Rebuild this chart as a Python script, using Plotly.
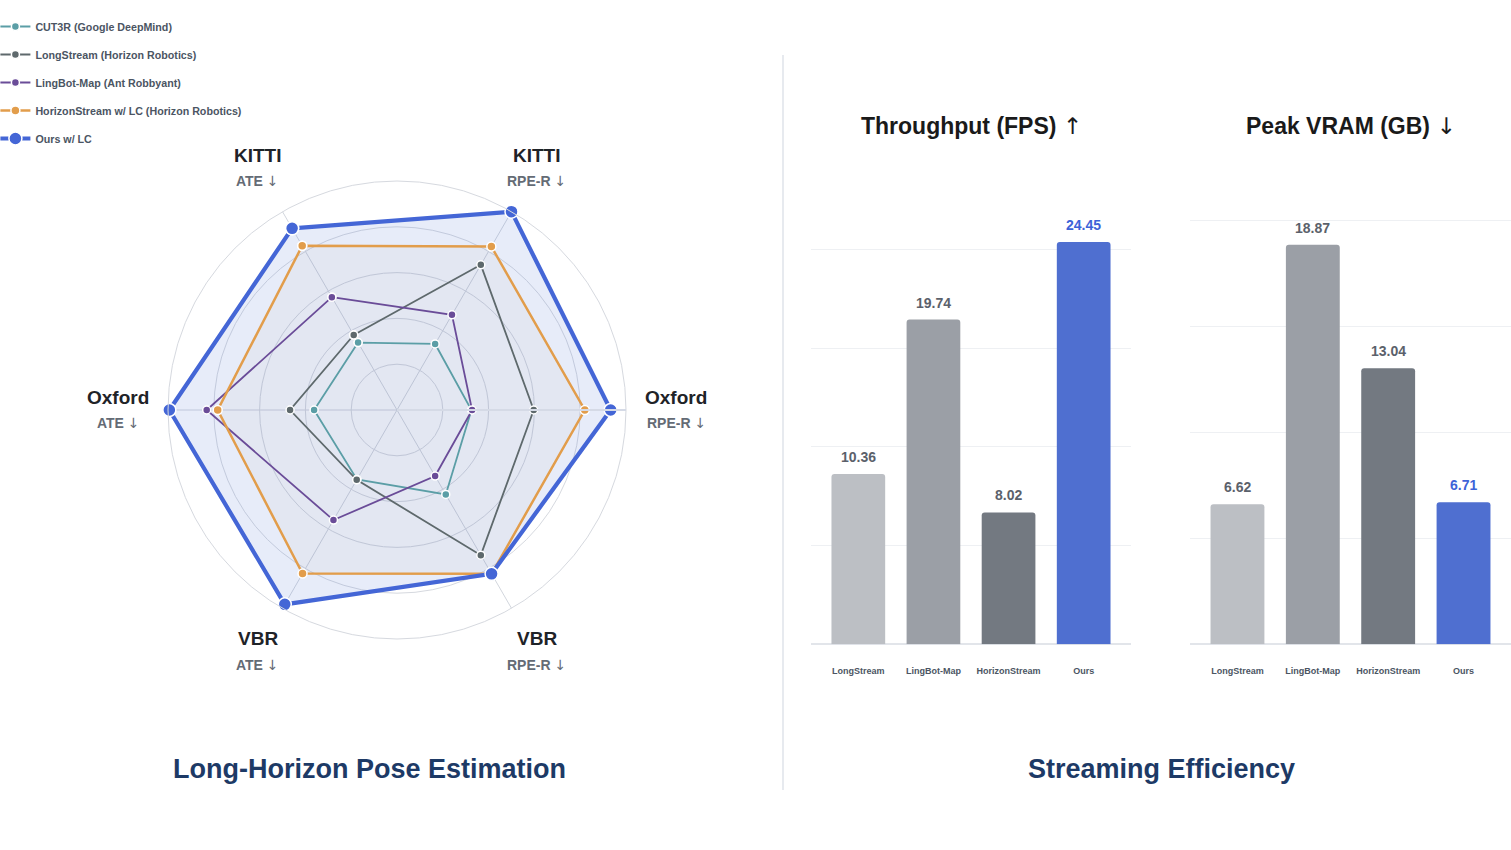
import math
import plotly.graph_objects as go

W, H = 1511, 850

# ---------------- data ----------------
radar_axes = ["KITTI ATE", "KITTI RPE-R", "Oxford RPE-R", "VBR RPE-R", "VBR ATE", "Oxford ATE"]
radar_dataset = ["KITTI", "KITTI", "Oxford", "VBR", "VBR", "Oxford"]
radar_metric = ["ATE", "RPE-R", "RPE-R", "RPE-R", "ATE", "ATE"]

cut3r = [0.34, 0.333, 0.325, 0.426, 0.35, 0.362]
longstream = [0.378, 0.732, 0.597, 0.732, 0.352, 0.467]
lingbot = [0.569, 0.48, 0.328, 0.333, 0.555, 0.831]
horizonstream = [0.828, 0.824, 0.82, 0.826, 0.825, 0.783]
ours = [0.916, 1.0, 0.933, 0.826, 0.98, 0.994]

series_names = [
    "CUT3R (Google DeepMind)",
    "LongStream (Horizon Robotics)",
    "LingBot-Map (Ant Robbyant)",
    "HorizonStream w/ LC (Horizon Robotics)",
    "Ours w/ LC",
]

bar_methods = ["LongStream", "LingBot-Map", "HorizonStream", "Ours"]
throughput_fps = [10.36, 19.74, 8.02, 24.45]
peak_vram_gb = [6.62, 18.87, 13.04, 6.71]

# ---------------- styles ----------------
FONT = "Liberation Sans, Arial, Helvetica, sans-serif"
ARROW = "<span style='font-family:DejaVu Sans;font-weight:normal'>{}</span>"
DOWN = ARROW.format("↓")
UP = ARROW.format("↑")
series_colors = ["#5b9ea6", "#5e696c", "#6a4c98", "#e29d4b", "#4466d6"]
series_width = [1.8, 1.8, 1.8, 2.5, 4.2]
series_msize = [8, 8, 8, 9, 13]
bar_colors = ["#bcbfc4", "#9b9fa6", "#737981", "#4f6fd0"]
label_colors = ["#5b616b", "#5b616b", "#5b616b", "#3d63d8"]

fig = go.Figure()

def closed(v):
    return list(v) + [v[0]]

theta_closed = closed(radar_axes)

# fill layers under the lines
fig.add_trace(go.Scatterpolar(
    r=closed(ours), theta=theta_closed, mode="lines", fill="toself",
    fillcolor="rgba(70,105,210,0.13)", line=dict(width=0, color="rgba(0,0,0,0)"),
    showlegend=False, hoverinfo="skip"))
fig.add_trace(go.Scatterpolar(
    r=closed(horizonstream), theta=theta_closed, mode="lines", fill="toself",
    fillcolor="rgba(150,130,120,0.05)", line=dict(width=0, color="rgba(0,0,0,0)"),
    showlegend=False, hoverinfo="skip"))

for i, (name, vals) in enumerate(zip(series_names, [cut3r, longstream, lingbot, horizonstream, ours])):
    fig.add_trace(go.Scatterpolar(
        r=closed(vals), theta=theta_closed, mode="lines+markers", name=name,
        line=dict(color=series_colors[i], width=series_width[i]),
        marker=dict(size=series_msize[i], color=series_colors[i],
                    line=dict(color="white", width=1.5)),
        legendgroup=f"g{i}",
    ))

# bar charts
fig.add_trace(go.Bar(x=bar_methods, y=throughput_fps, marker=dict(color=bar_colors, line=dict(width=0)),
                     xaxis="x", yaxis="y", showlegend=False, hoverinfo="x+y"))
fig.add_trace(go.Bar(x=bar_methods, y=peak_vram_gb, marker=dict(color=bar_colors, line=dict(width=0)),
                     xaxis="x2", yaxis="y2", showlegend=False, hoverinfo="x+y"))

annotations = []
for i, m in enumerate(bar_methods):
    annotations.append(dict(x=m, y=throughput_fps[i], xref="x", yref="y", text=f"<b>{throughput_fps[i]:.2f}</b>",
                            showarrow=False, xanchor="center", yanchor="bottom", yshift=7,
                            font=dict(size=14, color=label_colors[i], family=FONT)))
    annotations.append(dict(x=m, y=peak_vram_gb[i], xref="x2", yref="y2", text=f"<b>{peak_vram_gb[i]:.2f}</b>",
                            showarrow=False, xanchor="center", yanchor="bottom", yshift=7,
                            font=dict(size=14, color=label_colors[i], family=FONT)))

def label(px, py, text, size, color):
    return dict(x=px / W, y=1 - py / H, xref="paper", yref="paper", text=text, showarrow=False,
                xanchor="center", yanchor="middle", font=dict(size=size, color=color, family=FONT))

# radar axis labels
cx, cy, rlab = 397, 410, 279
for k in range(len(radar_axes)):
    ang = math.radians(120 - 60 * k)
    px = cx + rlab * math.cos(ang)
    py = cy - rlab * math.sin(ang)
    annotations.append(label(px, py - 13, f"<b>{radar_dataset[k]}</b>", 19, "#1f2328"))
    annotations.append(label(px, py + 13, f"<b>{radar_metric[k]}</b> {DOWN}", 14, "#646b75"))

# titles
annotations += [
    label(369, 769, "<b>Long-Horizon Pose Estimation</b>", 27, "#1d3a66"),
    label(1161, 769, "<b>Streaming Efficiency</b>", 27, "#1d3a66"),
    label(971, 126, f"<b>Throughput (FPS)</b> {UP}", 23, "#1a1a1a"),
    label(1350.5, 126, f"<b>Peak VRAM (GB)</b> {DOWN}", 23, "#1a1a1a"),
]

R = 229
ydom = [1 - 644.3 / H, 1 - 200 / H]
common_x = dict(showgrid=False, zeroline=False, showline=False, ticks="", range=[-0.63, 3.63],
                tickfont=dict(size=9, color="#4b5563", family=FONT, weight="bold"),
                ticklabelstandoff=20, fixedrange=True)
common_y = dict(showticklabels=False, gridcolor="#eef0f3", gridwidth=1, zeroline=True,
                zerolinecolor="#e2e5ea", zerolinewidth=2, showline=False, ticks="", fixedrange=True)

fig.update_layout(
    width=W, height=H, autosize=False,
    margin=dict(l=0, r=0, t=0, b=0, autoexpand=False),
    paper_bgcolor="white", plot_bgcolor="white",
    font=dict(family=FONT),
    showlegend=True,
    legend=dict(x=-4.6 / W, y=1 - 12 / H, xanchor="left", yanchor="top",
                font=dict(size=10.7, color="#4b5563", family=FONT, weight="bold"),
                traceorder="grouped", tracegroupgap=9, itemwidth=30,
                bgcolor="rgba(0,0,0,0)", borderwidth=0),
    polar=dict(
        domain=dict(x=[(cx - R) / W, (cx + R) / W], y=[1 - (cy + R) / H, 1 - (cy - R) / H]),
        bgcolor="white",
        angularaxis=dict(type="category", categoryarray=radar_axes, rotation=120, direction="clockwise",
                         showticklabels=False, ticks="", showline=True, linecolor="#d6d9df", linewidth=1,
                         gridcolor="#d2d6dd", gridwidth=1),
        radialaxis=dict(range=[0, 1], tickvals=[0.2, 0.4, 0.6, 0.8, 1.0], showticklabels=False, ticks="",
                        angle=0, showline=True, linecolor="#d5dae6", linewidth=2,
                        gridcolor="#d6d9df", gridwidth=1),
    ),
    xaxis=dict(domain=[811 / W, 1131 / W], anchor="y", **common_x),
    yaxis=dict(domain=ydom, anchor="x", range=[0, 27.01], dtick=6, **common_y),
    xaxis2=dict(domain=[1190 / W, 1.0], anchor="y2", **common_x),
    yaxis2=dict(domain=ydom, anchor="x2", range=[0, 20.99], dtick=5, **common_y),
    bargap=0.285, barcornerradius=3,
    annotations=annotations,
    shapes=[dict(type="line", xref="paper", yref="paper", x0=783 / W, x1=783 / W,
                 y0=1 - 790 / H, y1=1 - 55 / H, line=dict(color="#dfe3ea", width=1.5))],
)

fig.write_html("out.html", config={"displayModeBar": False},
               post_script="document.body.style.margin='0';document.body.style.overflow='hidden';")
